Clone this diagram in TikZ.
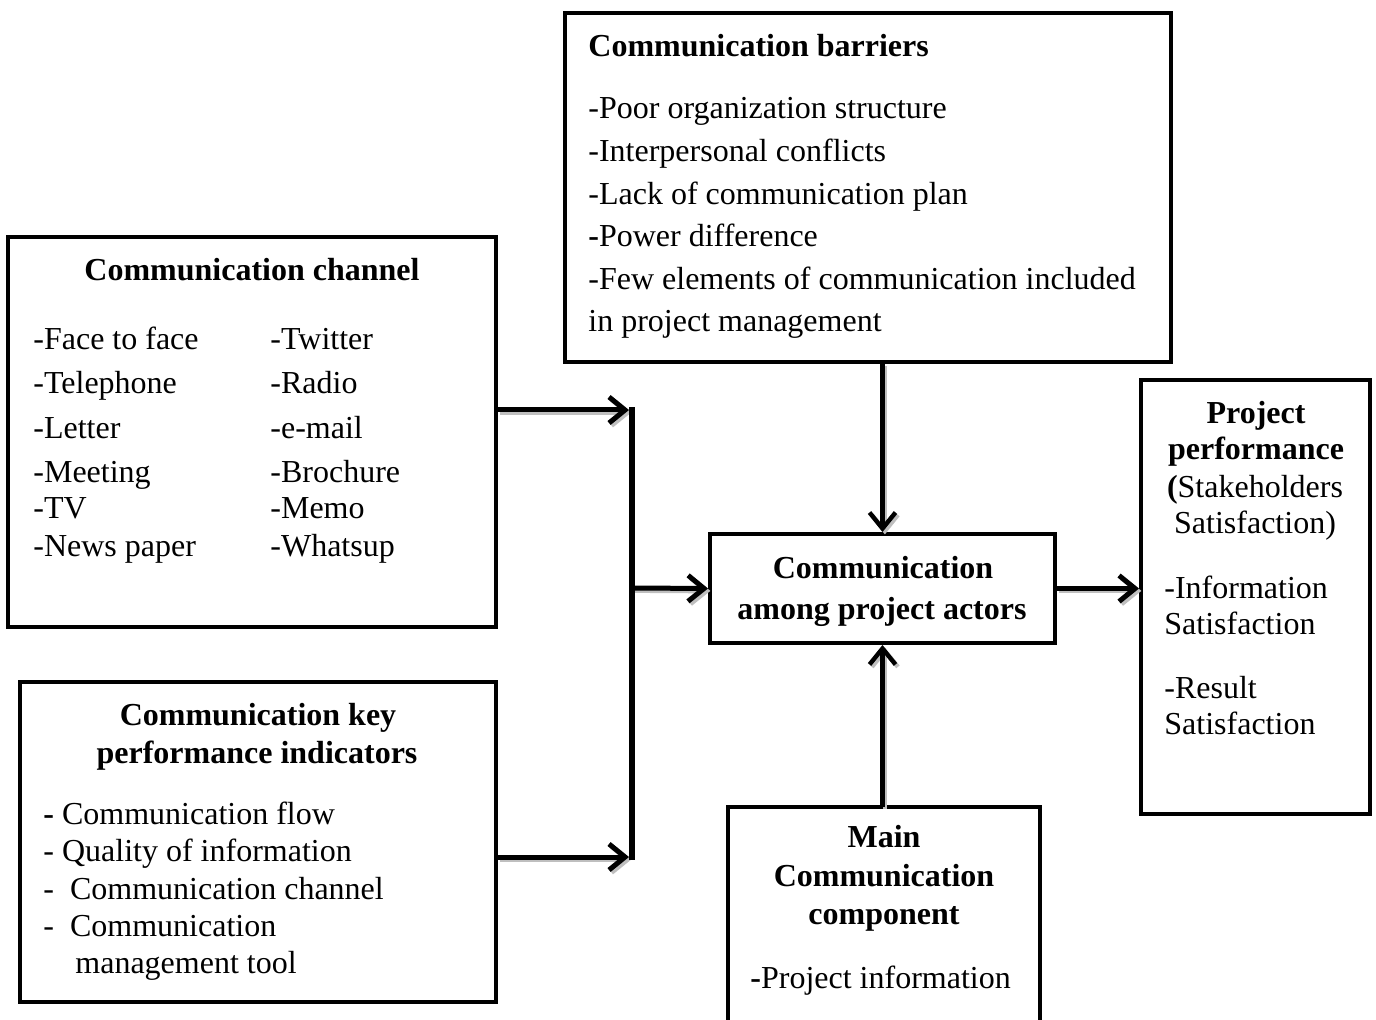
\documentclass[tikz,border=0pt]{standalone}
\usepackage{fontspec}
\setmainfont{Liberation Serif}
\usetikzlibrary{arrows.meta}
\newcommand\dfont{\fontsize{16pt}{19pt}\selectfont}
\begin{document}
\begin{tikzpicture}[x=0.5pt,y=-0.5pt,
  box/.style={draw, line width=2pt, inner sep=0pt},
  txt/.style={inner sep=0pt, anchor=base west, font=\dfont, yshift=-1pt},
  ctxt/.style={inner sep=0pt, anchor=base, font=\dfont, yshift=-1pt},
  conn/.style={line width=2.5pt, -{Straight Barb[length=8pt,width=13pt]}},
  vconn/.style={conn, line width=2.2pt},
  shd/.style={draw=gray!50, transform canvas={shift={(1.2pt,-1.2pt)}}}]
\useasboundingbox (0,0) rectangle (1376,1020);

% boxes
\node[box, minimum width=303pt, minimum height=174.5pt] (boxBar) at (868,187.5) {};
\node[box, minimum width=244pt, minimum height=195pt] (boxChan) at (252,432) {};
\node[box, minimum width=238pt, minimum height=160pt] (boxKpi) at (258,842) {};
\node[box, minimum width=172.5pt, minimum height=54.5pt] (boxCtr) at (882.5,588.5) {};
\node[box, minimum width=114.5pt, minimum height=217pt] (boxPerf) at (1255.5,597) {};
\node[inner sep=0pt, minimum width=156pt, minimum height=106.5pt] (boxMain) at (884,913.5) {};
\draw[line width=2pt] (boxMain.south west) -- (boxMain.north west) -- (boxMain.north east) -- (boxMain.south east);

% barriers text
\node[txt] (barT) at (588,55) {\textbf{Communication barriers}};
\foreach \t [count=\i] in {-Poor organization structure, -Interpersonal conflicts, -Lack of communication plan, \textbf{-}Power difference, -Few elements of communication included, in project management}
  \node[txt] (barr\i) at (588,{117+42.6*(\i-1)}) {\t};

% channel text
\node[ctxt] (chanT) at (252,279) {\textbf{Communication channel}};
\foreach \t/\y [count=\i] in {-Face to face/348, -Telephone/392, -Letter/437, -Meeting/481, -TV/517, -News paper/555}
  \node[txt] (chanL\i) at (33,\y) {\t};
\foreach \t/\y [count=\i] in {-Twitter/348, -Radio/392, -e-mail/437, -Brochure/481, -Memo/517, -Whatsup/555}
  \node[txt] (chanR\i) at (270,\y) {\t};

% KPI text
\node[ctxt] (kpiT1) at (258,724) {\textbf{Communication key}};
\node[ctxt] (kpiT2) at (257,761) {\textbf{performance indicators}};
\node[txt] (kpi1) at (43,823) {\textbf{-} Communication flow};
\node[txt] (kpi2) at (43,860) {- Quality of information};
\node[txt] (kpi3) at (43,897) {-\ \ Communication channel};
\node[txt] (kpi4) at (43,934) {-\ \ Communication};
\node[txt] (kpi5) at (75,971) {management tool};

% center text
\node[ctxt] (ctr1) at (883,577) {\textbf{Communication}};
\node[ctxt] (ctr2) at (882,618) {\textbf{among project actors}};

% performance text
\node[ctxt] (perf1) at (1256,422) {\textbf{Project}};
\node[ctxt] (perf2) at (1256,458) {\textbf{performance}};
\node[ctxt] (perf3) at (1255,496) {\textbf{(}Stakeholders};
\node[ctxt] (perf4) at (1255,532) {Satisfaction)};
\node[txt] (perf5) at (1164,597) {-Information};
\node[txt] (perf6) at (1164,633) {Satisfaction};
\node[txt] (perf7) at (1164,697) {-Result};
\node[txt] (perf8) at (1164,733) {Satisfaction};

% main component text
\node[ctxt] (main1) at (884,846) {\textbf{Main}};
\node[ctxt] (main2) at (884,884) {\textbf{Communication}};
\node[ctxt] (main3) at (884,922) {\textbf{component}};
\node[txt] (main4) at (750,986) {\textbf{-}Project information};

% connectors
\coordinate (b1) at (632,410);
\coordinate (b2) at (632,857);
\coordinate (bm) at (632,588);

\draw[conn, shd] (boxChan.east |- b1) -- ([xshift=-1.5pt]b1);
\draw[conn, shd] (boxKpi.east |- b2) -- ([xshift=-1.5pt]b2);
\draw[conn, shd] (bm) -- (boxCtr.west);
\draw[conn, shd] (boxCtr.east) -- (boxPerf.west |- boxCtr.east);
\draw[vconn, shd] (boxCtr.north |- boxBar.south) -- (boxCtr.north);
\draw[vconn, shd] (boxCtr.south |- boxMain.north) -- (boxCtr.south);

\draw[line width=3pt, line cap=rect] (b1) -- (b2);
\draw[conn] (boxChan.east |- b1) -- ([xshift=-1.5pt]b1);
\draw[conn] (boxKpi.east |- b2) -- ([xshift=-1.5pt]b2);
\draw[conn] (bm) -- (boxCtr.west);
\draw[conn] (boxCtr.east) -- (boxPerf.west |- boxCtr.east);
\draw[vconn] (boxCtr.north |- boxBar.south) -- (boxCtr.north);
\draw[vconn] (boxCtr.south |- boxMain.north) -- (boxCtr.south);
\end{tikzpicture}
\end{document}
